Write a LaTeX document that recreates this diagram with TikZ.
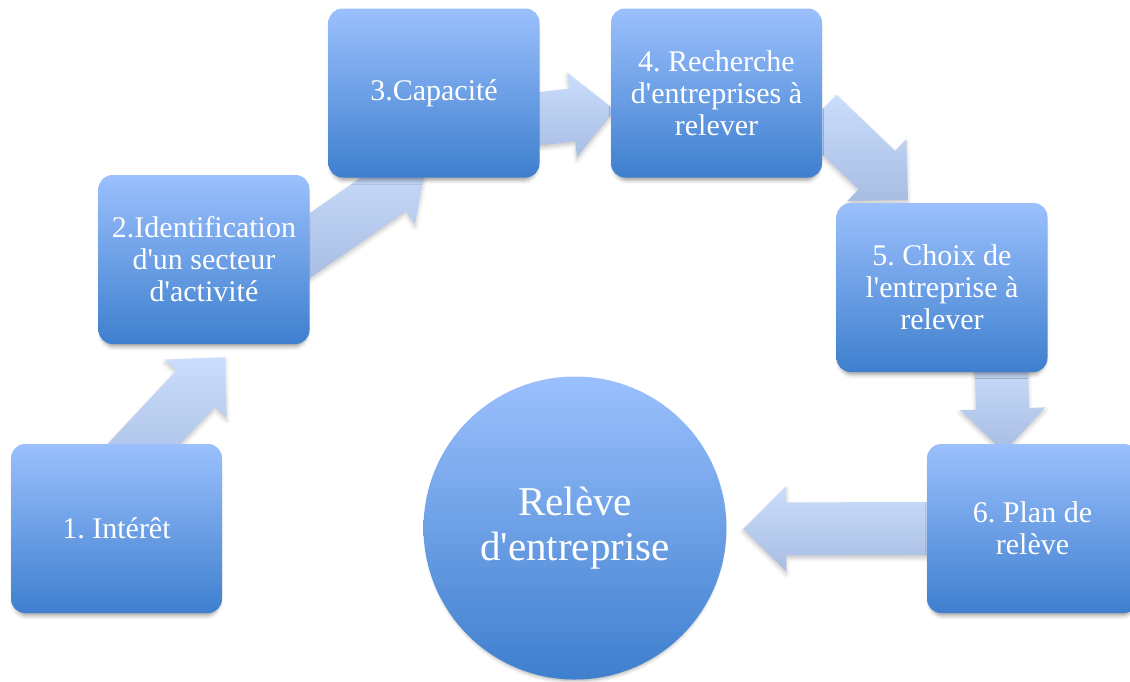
\documentclass[tikz,border=0pt]{standalone}
\usepackage{fontspec}
\setmainfont{Liberation Serif}
\usetikzlibrary{calc,shadows.blur}
\frenchspacing

\definecolor{boxtop}{RGB}{155,192,253}
\definecolor{boxbot}{RGB}{62,127,206}
\definecolor{arrtop}{RGB}{202,221,252}
\definecolor{arrbot}{RGB}{168,189,227}

\pgfdeclarelayer{background}
\pgfsetlayers{background,main}

\newcommand\apo{\textquotesingle}

\tikzset{
  softshadow/.style={blur shadow={shadow xshift=0pt, shadow yshift=-5pt,
      shadow blur radius=4pt, shadow scale=0.975, shadow opacity=38}},
  stepbox/.style={rectangle, rounded corners=14pt,
    minimum width=211pt, minimum height=169pt, inner sep=0pt,
    top color=boxtop, bottom color=boxbot, text=white, align=center,
    font=\fontsize{30}{32}\selectfont, softshadow},
  goalcircle/.style={circle, minimum size=303pt, inner sep=0pt,
    top color=boxtop, bottom color=boxbot, text=white, align=center,
    font=\fontsize{41}{45}\selectfont, softshadow},
  flowarrow/.style={top color=arrtop, bottom color=arrbot,
    blur shadow={shadow xshift=0pt, shadow yshift=-3pt,
      shadow blur radius=4pt, shadow opacity=22}}
}

% wide block arrow from a start point (#1) to its tip (#2)
\newcommand\blockarrow[2]{%
  \coordinate (ba-h) at ($(#2)!43pt!(#1)$);
  \path[flowarrow]
    ($(#1)!26.5pt!90:(#2)$) -- ($(ba-h)!26.5pt!90:(#2)$)
    -- ($(ba-h)!42.5pt!90:(#2)$) -- (#2)
    -- ($(ba-h)!42.5pt!-90:(#2)$) -- ($(ba-h)!26.5pt!-90:(#2)$)
    -- ($(#1)!26.5pt!-90:(#2)$) -- cycle;
}

\begin{document}
\begin{tikzpicture}[x=1pt, y=-1pt]
  \useasboundingbox (0,0) rectangle (1130,681);

  % process steps
  \node[stepbox] (b1) at (116.5,528.5) {1. Intérêt};
  \node[stepbox] (b2) at (204,259.5) {2.Identification\\d\apo un secteur\\d\apo activité};
  \node[stepbox] (b3) at (434,93) {3.Capacité};
  \node[stepbox] (b4) at (716.5,93) {4. Recherche\\d\apo entreprises à\\relever};
  \node[stepbox] (b5) at (942,287.5) {5. Choix de\\l\apo entreprise à\\relever};
  \node[stepbox] (b6) at (1032.5,528.5) {6. Plan de\\relève};

  % outcome
  \node[goalcircle] (c) at (575,528) {Relève\\d\apo entreprise};

  % arrow ends, tucked under the boxes
  \coordinate (a1s) at ($(b1.north)+(7,22)$);
  \coordinate (a1t) at ($(b2.south)+(21,13)$);
  \coordinate (a2s) at ($(b2.east)+(-20,0)$);
  \coordinate (a2t) at ($(b3.south)+(-8,-13)$);
  \coordinate (a3s) at ($(b3.east)+(-20,28)$);
  \coordinate (a3t) at ($(b4.west)+(4,17)$);
  \coordinate (a4s) at ($(b4.east)+(-4,21)$);
  \coordinate (a4t) at ($(b5.north)+(-34,-3)$);
  \coordinate (a5s) at ($(b5.south)+(59,-12)$);
  \coordinate (a5t) at ($(b6.north)+(-28.5,8)$);
  \coordinate (a6s) at ($(b6.west)+(13,0)$);
  \coordinate (a6t) at ($(c.east)+(16.5,1)$);

  \begin{pgfonlayer}{background}
    \blockarrow{a1s}{a1t}
    \blockarrow{a2s}{a2t}
    \blockarrow{a3s}{a3t}
    \blockarrow{a4s}{a4t}
    \blockarrow{a5s}{a5t}
    \blockarrow{a6s}{a6t}
  \end{pgfonlayer}
\end{tikzpicture}
\end{document}
